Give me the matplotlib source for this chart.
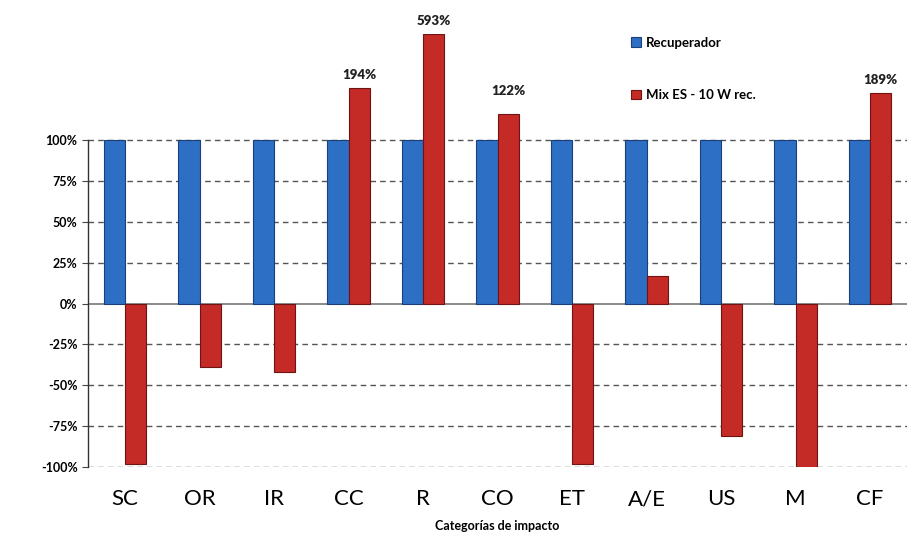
import matplotlib.pyplot as plt
import numpy as np

# categorias de impacto
categories = ["SC", "OR", "IR", "CC", "R", "CO", "ET", "A/E", "US", "M", "CF"]
recuperador = [100, 100, 100, 100, 100, 100, 100, 100, 100, 100, 100]
# altura dibujada de las barras (las mayores de 100% van recortadas en el original)
mix_es = [-98, -39, -42, 132, 165, 116, -98, 17, -81, -100, 129]
# etiquetas con el valor real
mix_labels = {3: "194%", 4: "593%", 5: "122%", 10: "189%"}

yticks = [-100, -75, -50, -25, 0, 25, 50, 75, 100]

plt.rcParams['font.family'] = ['Lato', 'DejaVu Sans']

fig = plt.figure(figsize=(9.22, 5.49), dpi=100)
ax = fig.add_axes([0.0954, 0.1494, 0.8886, 0.789])

x = np.arange(len(categories))
w = 0.285
blue = "#2d6fc4"
red = "#c42a26"

ax.bar(x - w / 2, recuperador, w, color=blue, edgecolor="#1b3f78", linewidth=0.8,
       label="Recuperador", zorder=3)
ax.bar(x + w / 2, mix_es, w, color=red, edgecolor="#6e1412", linewidth=0.8,
       label="Mix ES - 10 W rec.", zorder=3)

for i, txt in mix_labels.items():
    off = 12 if i == 5 else 5
    ax.annotate(txt, (x[i] + w / 2, mix_es[i]), xytext=(0, off), textcoords="offset points",
                ha="center", va="bottom", fontsize=9.5, fontweight="heavy", color="#222222")

ax.set_xlim(-0.5, len(categories) - 0.5)
ax.set_ylim(-100, 165)
ax.set_yticks(yticks)
ax.set_yticklabels([f"{t}%" for t in yticks], fontsize=9, fontweight="bold")
ax.set_xticks(x)
ax.set_xticklabels(categories, fontsize=16)
ax.tick_params(axis="x", length=0, pad=16)
ax.tick_params(axis="y", length=4, width=0.8, direction="out", color="#444444")

for t in yticks:
    if t == 0:
        ax.axhline(t, color="#777777", lw=1.2, zorder=2)
    else:
        ax.axhline(t, color="#555555", lw=1.0, ls=(0, (4, 3)), zorder=1)

for s in ["top", "right", "bottom"]:
    ax.spines[s].set_visible(False)
ax.spines["left"].set_color("#333333")
ax.spines["left"].set_linewidth(1.0)
ax.spines["left"].set_bounds(-100, 100)

ax.set_xlabel("Categorías de impacto", fontsize=9, fontweight="bold", labelpad=8)

ax.legend(loc="upper left", bbox_to_anchor=(0.672, 0.955), bbox_transform=fig.transFigure,
          frameon=False, handlelength=0.7, handleheight=0.7,
          handletextpad=0.4, labelspacing=3.1,
          prop={"weight": "bold", "size": 9.5})

fig.savefig("out.png", dpi=100, facecolor="white")
